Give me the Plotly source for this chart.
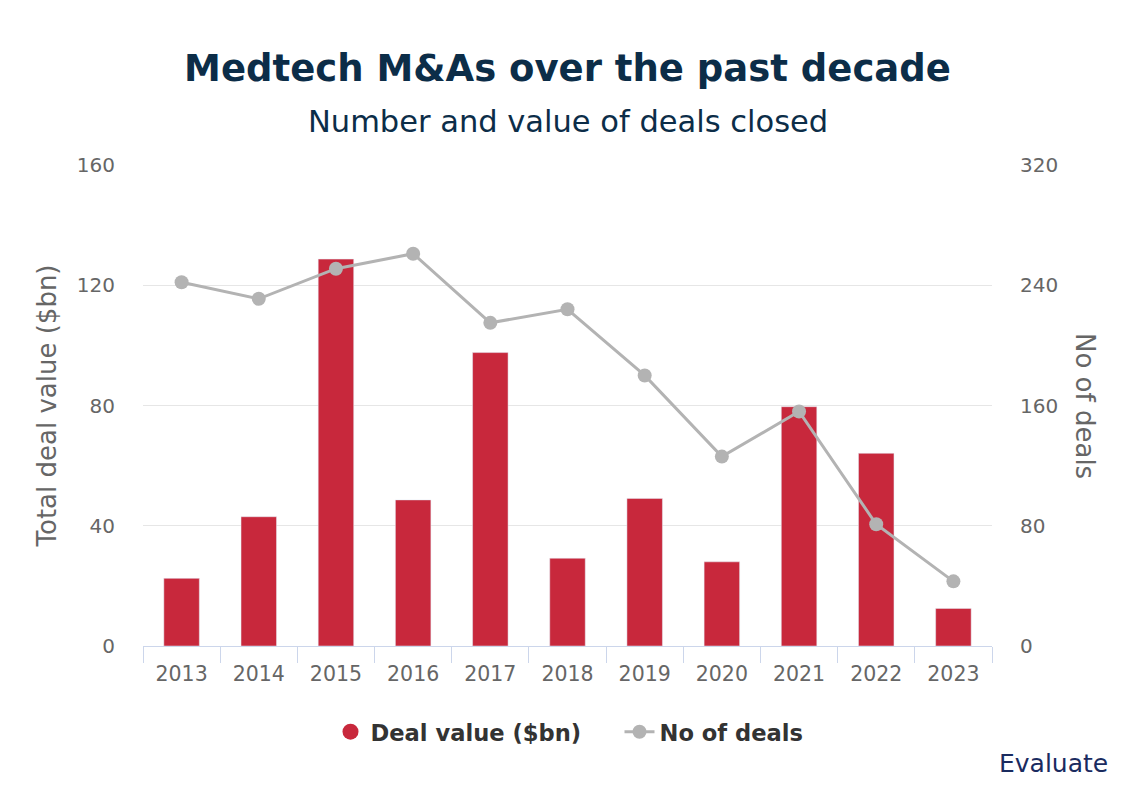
import plotly.graph_objects as go

years = ["2013", "2014", "2015", "2016", "2017", "2018", "2019", "2020", "2021", "2022", "2023"]
deal_value = [22.5, 43.0, 128.7, 48.6, 97.6, 29.2, 49.1, 28.0, 79.6, 64.1, 12.5]
num_deals = [242, 231, 251, 261, 215, 224, 180, 126, 156, 81, 43]
left_ticks = [0, 40, 80, 120, 160]
right_ticks = [0, 80, 160, 240, 320]

RED = "#c8283c"
GREY = "#b3b3b3"
NAVY = "#0c2d48"
FONT = "DejaVu Sans, Verdana, sans-serif"

OFF = 8  # page body margin
W, H = 1143 - OFF, 790 - OFF
L, R, T, B = 143 - OFF, 151, 165 - OFF, 144
PW, PH = W - L - R, H - T - B


def px(x):
    return (x - OFF - L) / PW


def py(y):
    return (H - B - (y - OFF)) / PH


fig = go.Figure()
fig.add_trace(go.Bar(x=years, y=deal_value, name="Deal value ($bn)", marker_color=RED,
                     width=0.46, showlegend=False, yaxis="y"))
fig.add_trace(go.Scatter(x=[None], y=[None], mode="markers", name="Deal value ($bn)",
                         marker=dict(color=RED, size=22, symbol="circle"), showlegend=True))
fig.add_trace(go.Scatter(x=years, y=num_deals, name="No of deals", mode="lines+markers",
                         line=dict(color=GREY, width=3), marker=dict(color=GREY, size=14),
                         yaxis="y2"))

fig.update_layout(
    width=W, height=H,
    paper_bgcolor="white", plot_bgcolor="white",
    margin=dict(l=L, r=R, t=T, b=B, autoexpand=False),
    font=dict(family=FONT, color="#666666"),
    title=dict(text="<b>Medtech M&As over the past decade</b>", x=0.5, xanchor="center",
               xref="paper", y=1 - (68 - OFF) / H, yanchor="middle",
               font=dict(family=FONT, size=37, color=NAVY)),
    xaxis=dict(type="category", range=[-0.5, len(years) - 0.5], tickson="boundaries",
               ticks="outside", ticklen=16,
               tickcolor="#ccd6eb", showline=True, linecolor="#ccd6eb", linewidth=1,
               showgrid=False, tickfont=dict(size=20.5, color="#666666"),
               ticklabelstandoff=9, automargin=False),
    yaxis=dict(range=[0, 160], tickvals=left_ticks, showgrid=True, gridcolor="#e6e6e6",
               gridwidth=1, zeroline=False, tickfont=dict(size=20, color="#666666"),
               ticklabelstandoff=27, automargin=False,
               title=dict(text="Total deal value ($bn)", font=dict(size=26, color="#666666"),
                          standoff=12)),
    yaxis2=dict(range=[0, 320], tickvals=right_ticks, overlaying="y", side="right",
                showgrid=False, zeroline=False, tickfont=dict(size=20, color="#666666"),
                ticklabelstandoff=27, automargin=False),
    legend=dict(orientation="h", x=0.5 + 52 / PW, xanchor="center", y=py(732), yanchor="middle",
                font=dict(size=22.6, color="#333333", family=FONT), itemsizing="trace",
                traceorder="normal", entrywidth=244, entrywidthmode="pixels"),
    annotations=[
        dict(text="Number and value of deals closed", x=0.5, xref="paper", xanchor="center",
             y=py(121), yref="paper", yanchor="middle", showarrow=False,
             font=dict(family=FONT, size=30.5, color=NAVY)),
        dict(text="No of deals", textangle=90, x=px(1085), xref="paper", xanchor="center",
             y=py(406), yref="paper", yanchor="middle", showarrow=False,
             font=dict(family=FONT, size=26, color="#666666")),
        dict(text="Evaluate", x=px(1110), xref="paper", xanchor="right",
             y=py(763), yref="paper", yanchor="middle", showarrow=False,
             font=dict(family=FONT, size=25, color="#1a2b5f")),
    ],
    hovermode=False,
)
fig.update_layout(legend_font_weight="bold")

fig.write_html("out.html")
